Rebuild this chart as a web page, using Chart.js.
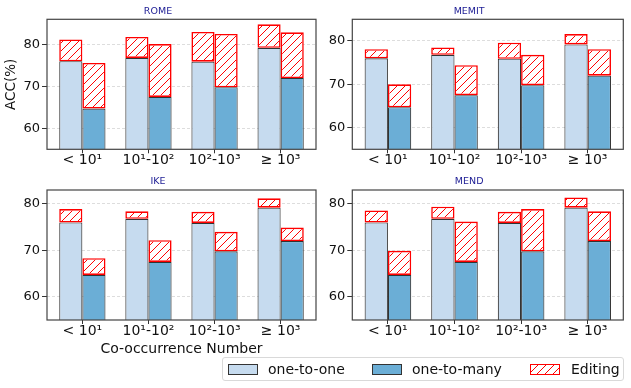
<!DOCTYPE html>
<html>
<head>
<meta charset="utf-8">
<script src="https://cdn.jsdelivr.net/npm/chart.js@4"></script>
<style>
  body { margin: 0; background: #fff; width: 631px; height: 388px; position: relative; overflow: hidden; font-family: "DejaVu Sans", sans-serif; }
  canvas { position: absolute; }
  #legend { position: absolute; left: 222px; top: 357px; width: 400px; height: 22px; border: 1px solid #d9d9d9; border-radius: 3px; background: #fff; }
  #legend .sw { position: absolute; top: 6px; width: 28px; height: 9px; border: 1px solid #333; }
  #legend .lb { position: absolute; top: 0; line-height: 23px; font-size: 14px; color: #111; white-space: nowrap; }
</style>
</head>
<body>
<canvas id="rome" width="320" height="172" style="left:0;top:0"></canvas>
<canvas id="memit" width="316" height="172" style="left:315px;top:0"></canvas>
<canvas id="ike" width="320" height="190" style="left:0;top:171px"></canvas>
<canvas id="mend" width="316" height="175" style="left:315px;top:171px"></canvas>

<div id="legend">
  <span class="sw" style="left:5px;background:#c6dbef"></span><span class="lb" style="left:45px">one-to-one</span>
  <span class="sw" style="left:149px;background:#6baed6"></span><span class="lb" style="left:189px">one-to-many</span>
  <span class="sw" style="left:307px;border-color:#f00;background:repeating-linear-gradient(135deg,#fff 0 4.6px,#f00 4.6px 5.6px)"></span><span class="lb" style="left:348px">Editing</span>
</div>

<script>
// categories on the x axis
const categories = ["< 10¹", "10¹-10²", "10²-10³", "≥ 10³"];
const yTicks = [60, 70, 80];

// accuracy before editing (same for every method)
const oneToOne = [76.0, 76.8, 75.9, 79.2];
const oneToMany = [64.7, 67.5, 69.8, 72.0];

// accuracy after editing, per method
const romeOneToOne = [81.2, 81.8, 83.0, 84.8];
const romeOneToMany = [75.6, 80.1, 82.5, 82.9];
const memitOneToOne = [78.1, 78.5, 79.6, 81.6];
const memitOneToMany = [70.0, 74.4, 76.8, 78.1];
const ikeOneToOne = [78.9, 78.4, 78.3, 81.2];
const ikeOneToMany = [68.3, 72.2, 74.0, 74.9];
const mendOneToOne = [78.6, 79.4, 78.3, 81.4];
const mendOneToMany = [69.9, 76.2, 78.9, 78.4];

// red "//" hatch drawn inside the editing bars
const hatchPlugin = {
  id: "hatch",
  afterDatasetDraw(chart, args) {
    if (!chart.data.datasets[args.index].hatch) return;
    const ctx = chart.ctx;
    const a = chart.chartArea;
    const gap = 8;
    args.meta.data.forEach((bar) => {
      const p = bar.getProps(["x", "y", "base", "width"], true);
      const bw = 1.6;
      const left = p.x - p.width / 2 + bw;
      const right = p.x + p.width / 2 - bw;
      const top = Math.min(p.y, p.base) + bw;
      const bottom = Math.max(p.y, p.base) - bw;
      ctx.save();
      ctx.beginPath();
      ctx.rect(a.left, a.top, a.right - a.left, a.bottom - a.top);
      ctx.clip();
      ctx.beginPath();
      ctx.rect(left, top, right - left, bottom - top);
      ctx.clip();
      ctx.strokeStyle = "#ff0000";
      ctx.lineWidth = 1;
      ctx.beginPath();
      const start = Math.floor((left + top) / gap) * gap;
      for (let c = start; c <= right + bottom + gap; c += gap) {
        ctx.moveTo(c - top + 1, top - 1);
        ctx.lineTo(c - bottom - 1, bottom + 1);
      }
      ctx.stroke();
      ctx.restore();
    });
  }
};

// axes frame like matplotlib spines
const frame = {
  id: "frame",
  afterDatasetsDraw(chart) {
    const { ctx, chartArea: a } = chart;
    ctx.save();
    ctx.setLineDash([]);
    ctx.strokeStyle = "#444";
    ctx.lineWidth = 1.2;
    ctx.strokeRect(a.left, a.top, a.right - a.left, a.bottom - a.top);
    ctx.restore();
  }
};

const pts = (arr) => arr.map((v, i) => ({ x: i, y: v }));
const range = (lo, hi) => lo.map((v, i) => ({ x: i, y: [v, hi[i]] }));

function panel(id, title, editO2O, editO2M, yMax, o) {
  const barBase = { borderColor: "#333", borderWidth: 1.1, borderSkipped: false, categoryPercentage: 0.7, barPercentage: 1.0 };
  const barEdit = { hatch: true, backgroundColor: "#fff", borderColor: "#ff0000", borderWidth: 1.6, borderSkipped: false, categoryPercentage: 0.7, barPercentage: 1.0 };
  const canvas = document.getElementById(id);
  // same kind of 2d context for every panel
  canvas.getContext("2d", { willReadFrequently: true });
  new Chart(canvas, {
    type: "bar",
    data: {
      datasets: [
        { ...barEdit, label: "Editing", stack: "a", data: range(oneToOne, editO2O) },
        { ...barEdit, label: "Editing", stack: "b", data: range(oneToMany, editO2M) },
        { ...barBase, label: "one-to-one", stack: "a", backgroundColor: "#c6dbef", data: pts(oneToOne) },
        { ...barBase, label: "one-to-many", stack: "b", backgroundColor: "#6baed6", data: pts(oneToMany) }
      ]
    },
    options: {
      responsive: false,
      animation: false,
      events: [],
      layout: { padding: { right: o.padRight, top: 0, bottom: 0, left: 0 } },
      plugins: {
        legend: { display: false },
        tooltip: { enabled: false },
        title: {
          display: true,
          text: title,
          color: "#1c1c94",
          font: { family: "DejaVu Sans", size: 9.5, weight: "normal" },
          padding: { top: o.titleTop, bottom: o.titleBottom }
        }
      },
      scales: {
        x: {
          type: "linear",
          stacked: true,
          offset: false,
          min: -0.535,
          max: 3.535,
          afterBuildTicks: (s) => { s.ticks = categories.map((c, i) => ({ value: i })); },
          afterFit: (s) => { s.height = o.xHeight; },
          grid: { offset: false, drawOnChartArea: false, drawTicks: true, tickLength: 4, tickColor: "#333", tickWidth: 1 },
          border: { display: false },
          ticks: {
            callback: (v) => categories[v],
            autoSkip: false,
            maxRotation: 0,
            padding: -1,
            color: "#111",
            font: { family: "DejaVu Sans", size: 14 }
          },
          title: {
            display: !!o.xTitle,
            text: o.xTitle || "",
            color: "#111",
            font: { family: "DejaVu Sans", size: 14 },
            padding: { top: 3.5, bottom: 3.5 }
          }
        },
        y: {
          stacked: false,
          min: 55,
          max: yMax,
          afterBuildTicks: (s) => { s.ticks = yTicks.map((v) => ({ value: v })); },
          afterFit: (s) => { s.width = o.yWidth; },
          grid: { color: "#d4d4d4", lineWidth: 0.8, drawTicks: true, tickLength: 5, tickColor: "#333", tickWidth: 1 },
          border: { display: false, dash: [3, 2] },
          ticks: { padding: 2, color: "#111", font: { family: "DejaVu Sans", size: 13 } },
          title: {
            display: !!o.yTitle,
            text: o.yTitle || "",
            color: "#111",
            font: { family: "DejaVu Sans", size: 13.5 },
            padding: { top: 3.5, bottom: 0 }
          }
        }
      }
    },
    plugins: [hatchPlugin, frame]
  });
}

panel("rome", "ROME", romeOneToOne, romeOneToMany, 86,
  { padRight: 4, yWidth: 47, xHeight: 22.7, titleTop: 5.5, titleBottom: 2.4, yTitle: "ACC(%)" });
panel("memit", "MEMIT", memitOneToOne, memitOneToMany, 85,
  { padRight: 7.7, yWidth: 37.3, xHeight: 22.7, titleTop: 5.5, titleBottom: 2.4 });
panel("ike", "IKE", ikeOneToOne, ikeOneToMany, 83,
  { padRight: 4, yWidth: 47, xHeight: 41, titleTop: 4.5, titleBottom: 3.1, xTitle: "Co-occurrence Number" });
panel("mend", "MEND", mendOneToOne, mendOneToMany, 83,
  { padRight: 7.7, yWidth: 37.3, xHeight: 26, titleTop: 4.5, titleBottom: 3.1 });
</script>
</body>
</html>
